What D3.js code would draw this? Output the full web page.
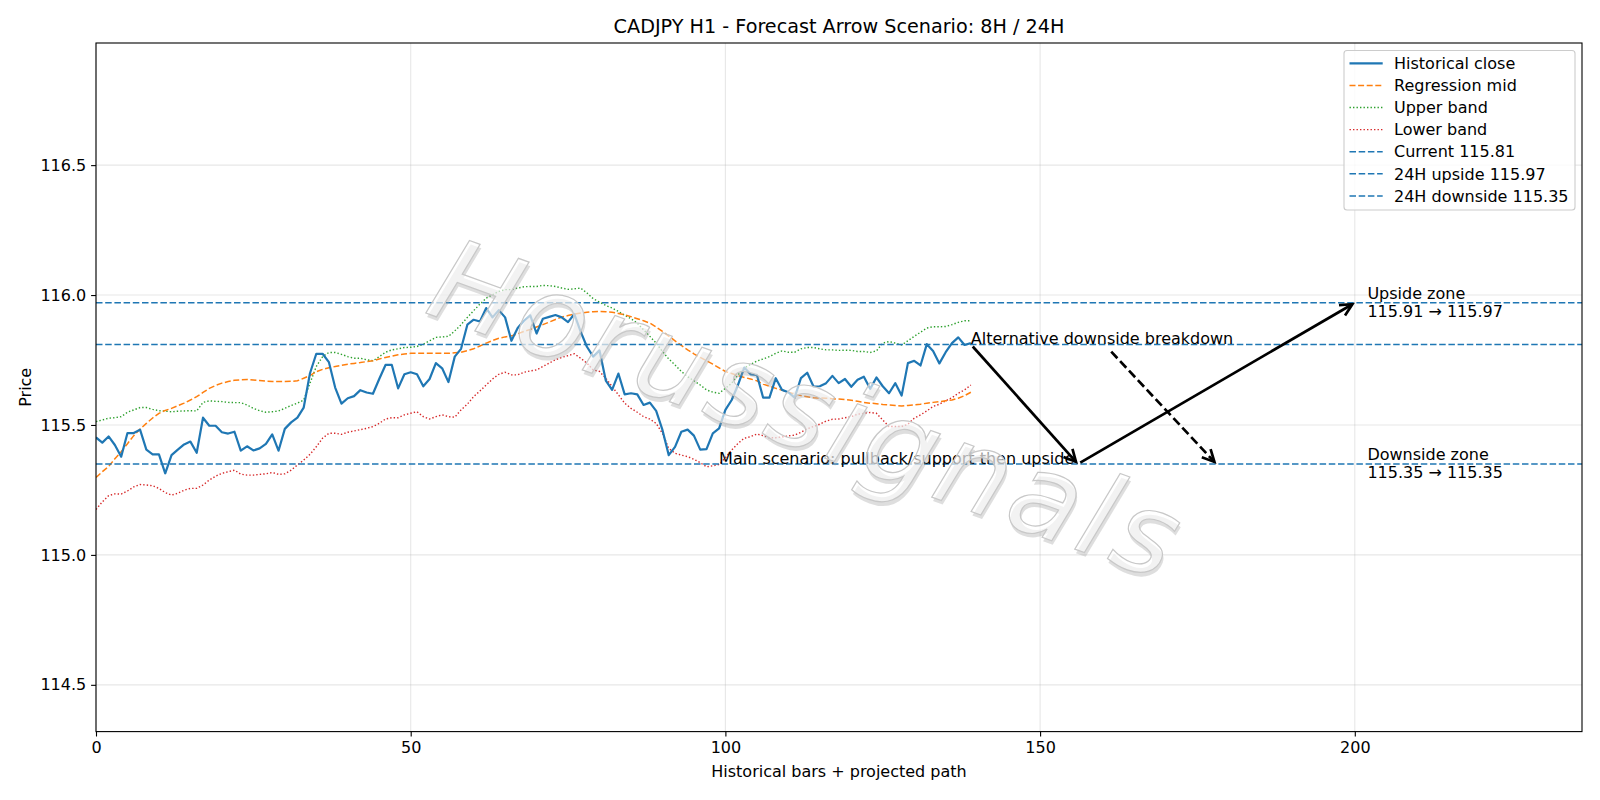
<!DOCTYPE html>
<html>
<head>
<meta charset="utf-8">
<script src="https://cdnjs.cloudflare.com/ajax/libs/d3/7.8.5/d3.min.js"></script>
<style>
  body { margin: 0; background: #ffffff; }
  svg  { font-family: 'DejaVu Sans', sans-serif; }
</style>
</head>
<body>
<svg id="chart" width="1600" height="800"></svg>
<script>
var closeSeries = [
  115.452, 115.432, 115.456, 115.423, 115.378, 115.469, 115.469, 115.482, 115.405, 115.387,
  115.387, 115.314, 115.384, 115.405, 115.425, 115.436, 115.393, 115.528, 115.497, 115.497,
  115.472, 115.467, 115.474, 115.401, 115.418, 115.402, 115.410, 115.427, 115.464, 115.401,
  115.485, 115.510, 115.528, 115.567, 115.699, 115.774, 115.774, 115.742, 115.644, 115.582,
  115.603, 115.611, 115.634, 115.625, 115.620, 115.677, 115.731, 115.731, 115.641, 115.695,
  115.703, 115.695, 115.649, 115.677, 115.738, 115.718, 115.665, 115.763, 115.793, 115.886,
  115.905, 115.898, 115.950, 115.914, 115.942, 115.914, 115.824, 115.873, 115.901, 115.922,
  115.852, 115.909, 115.916, 115.923, 115.914, 115.896, 115.927, 115.859, 115.801, 115.763,
  115.787, 115.671, 115.635, 115.698, 115.618, 115.622, 115.618, 115.577, 115.586, 115.554,
  115.481, 115.384, 115.416, 115.474, 115.482, 115.459, 115.405, 115.407, 115.468, 115.487,
  115.558, 115.596, 115.654, 115.721, 115.695, 115.693, 115.605, 115.605, 115.680, 115.635,
  115.626, 115.605, 115.680, 115.701, 115.648, 115.649, 115.661, 115.689, 115.661, 115.677,
  115.647, 115.674, 115.686, 115.639, 115.683, 115.649, 115.622, 115.661, 115.613, 115.738,
  115.747, 115.729, 115.811, 115.785, 115.737, 115.780, 115.815, 115.837, 115.808, 115.815
]

var midSeries = [
  115.298, 115.320, 115.340, 115.370, 115.397, 115.428, 115.459, 115.484, 115.506, 115.527,
  115.545, 115.556, 115.564, 115.574, 115.584, 115.596, 115.609, 115.625, 115.641, 115.652,
  115.661, 115.667, 115.672, 115.674, 115.675, 115.673, 115.671, 115.669, 115.667, 115.667,
  115.667, 115.668, 115.670, 115.680, 115.690, 115.705, 115.714, 115.720, 115.725, 115.730,
  115.734, 115.737, 115.740, 115.744, 115.747, 115.754, 115.760, 115.765, 115.770, 115.773,
  115.776, 115.776, 115.776, 115.776, 115.776, 115.776, 115.776, 115.778, 115.780, 115.786,
  115.793, 115.804, 115.815, 115.825, 115.834, 115.839, 115.843, 115.851, 115.860, 115.868,
  115.877, 115.886, 115.896, 115.906, 115.915, 115.921, 115.927, 115.931, 115.934, 115.936,
  115.937, 115.936, 115.934, 115.929, 115.924, 115.917, 115.909, 115.901, 115.892, 115.877,
  115.860, 115.842, 115.824, 115.806, 115.789, 115.774, 115.760, 115.747, 115.734, 115.720,
  115.706, 115.698, 115.690, 115.683, 115.677, 115.670, 115.657, 115.649, 115.641, 115.634,
  115.626, 115.619, 115.613, 115.609, 115.605, 115.604, 115.603, 115.601, 115.600, 115.598,
  115.595, 115.591, 115.587, 115.584, 115.582, 115.579, 115.577, 115.575, 115.573, 115.575,
  115.577, 115.580, 115.584, 115.587, 115.590, 115.593, 115.596, 115.603, 115.613, 115.626
]

var upperSeries = [
  115.513, 115.519, 115.526, 115.528, 115.532, 115.549, 115.558, 115.567, 115.567, 115.560,
  115.555, 115.553, 115.551, 115.553, 115.554, 115.555, 115.554, 115.587, 115.593, 115.591,
  115.590, 115.587, 115.586, 115.586, 115.577, 115.564, 115.555, 115.549, 115.551, 115.554,
  115.564, 115.575, 115.584, 115.596, 115.661, 115.725, 115.763, 115.779, 115.779, 115.772,
  115.763, 115.757, 115.757, 115.751, 115.747, 115.763, 115.780, 115.789, 115.793, 115.798,
  115.799, 115.802, 115.811, 115.824, 115.837, 115.839, 115.841, 115.862, 115.886, 115.914,
  115.940, 115.965, 115.988, 116.001, 116.014, 116.021, 116.021, 116.027, 116.032, 116.033,
  116.033, 116.037, 116.036, 116.033, 116.027, 116.022, 116.024, 116.027, 116.008, 115.986,
  115.973, 115.960, 115.950, 115.937, 115.922, 115.909, 115.892, 115.866, 115.841, 115.815,
  115.783, 115.754, 115.731, 115.706, 115.686, 115.670, 115.654, 115.635, 115.626, 115.622,
  115.641, 115.661, 115.693, 115.719, 115.733, 115.746, 115.754, 115.763, 115.776, 115.785,
  115.780, 115.780, 115.793, 115.798, 115.798, 115.793, 115.789, 115.789, 115.787, 115.788,
  115.787, 115.783, 115.783, 115.779, 115.785, 115.815, 115.821, 115.815, 115.808, 115.824,
  115.841, 115.857, 115.873, 115.878, 115.878, 115.879, 115.886, 115.895, 115.901, 115.901
]

var lowerSeries = [
  115.175, 115.204, 115.228, 115.235, 115.234, 115.246, 115.262, 115.271, 115.269, 115.266,
  115.256, 115.240, 115.230, 115.237, 115.249, 115.256, 115.256, 115.269, 115.288, 115.303,
  115.314, 115.320, 115.326, 115.311, 115.307, 115.307, 115.310, 115.312, 115.317, 115.310,
  115.312, 115.326, 115.346, 115.365, 115.387, 115.416, 115.449, 115.468, 115.468, 115.464,
  115.472, 115.477, 115.482, 115.487, 115.494, 115.506, 115.523, 115.528, 115.528, 115.539,
  115.545, 115.551, 115.532, 115.523, 115.532, 115.539, 115.532, 115.530, 115.558, 115.580,
  115.609, 115.631, 115.654, 115.677, 115.695, 115.703, 115.693, 115.693, 115.703, 115.708,
  115.712, 115.725, 115.738, 115.751, 115.760, 115.767, 115.774, 115.757, 115.738, 115.712,
  115.706, 115.680, 115.648, 115.616, 115.584, 115.564, 115.549, 115.532, 115.523, 115.506,
  115.468, 115.410, 115.391, 115.384, 115.378, 115.368, 115.355, 115.339, 115.343, 115.348,
  115.374, 115.404, 115.429, 115.449, 115.455, 115.465, 115.459, 115.451, 115.451, 115.454,
  115.458, 115.461, 115.472, 115.485, 115.494, 115.503, 115.515, 115.522, 115.523, 115.528,
  115.532, 115.541, 115.545, 115.548, 115.545, 115.519, 115.494, 115.494, 115.494, 115.503,
  115.526, 115.539, 115.554, 115.571, 115.580, 115.593, 115.605, 115.622, 115.635, 115.654
]

var currentPrice   = 115.81
var upsideTarget   = 115.97
var upsideFrom     = 115.91
var downsideTarget = 115.35
var downsideFrom   = 115.35

var xTicks = [0, 50, 100, 150, 200]
var yTicks = [114.5, 115.0, 115.5, 116.0, 116.5]
var xDomain = [0, 236.1]
var yDomain = [114.32, 116.97]

var mainPath = [
  { x: 139, y: 115.81 },
  { x: 156, y: 115.35 },
  { x: 200, y: 115.97 }
]
var altPath = [
  { x: 161, y: 115.79 },
  { x: 178, y: 115.35 }
]

var legendLabels = [
  'Historical close',
  'Regression mid',
  'Upper band',
  'Lower band',
  'Current ' + currentPrice.toFixed(2),
  '24H upside ' + upsideTarget.toFixed(2),
  '24H downside ' + downsideTarget.toFixed(2)
]

drawForecastChart()

function drawForecastChart() {

  var svg    = d3.select('#chart')
  var left   = 96
  var right  = 1582
  var top    = 43
  var bottom = 731.6
  var fs     = 16
  var blue   = '#1f77b4'

  var x = d3.scaleLinear().domain(xDomain).range([left, right])
  var y = d3.scaleLinear().domain(yDomain).range([bottom, top])

  var defs = svg.append('defs')
  defs.append('clipPath')
      .attr('id', 'plotClip')
      .append('rect')
      .attr('x', left)
      .attr('y', top)
      .attr('width', right - left)
      .attr('height', bottom - top)

  defs.append('marker')
      .attr('id', 'openHead')
      .attr('viewBox', '-18 -12 24 24')
      .attr('markerUnits', 'userSpaceOnUse')
      .attr('markerWidth', 24)
      .attr('markerHeight', 24)
      .attr('refX', 0)
      .attr('refY', 0)
      .attr('orient', 'auto')
      .append('path')
      .attr('d', 'M-12,-6L0,0L-12,6')
      .attr('fill', 'none')
      .attr('stroke', '#000')
      .attr('stroke-width', 2.7)
      .attr('stroke-linejoin', 'miter')

  // grid
  var grid = svg.append('g')
  grid.selectAll('.vgrid')
      .data(xTicks)
      .enter()
      .append('line')
      .attr('x1', function(d) { return x(d) })
      .attr('x2', function(d) { return x(d) })
      .attr('y1', top)
      .attr('y2', bottom)
  grid.selectAll('.hgrid')
      .data(yTicks)
      .enter()
      .append('line')
      .attr('x1', left)
      .attr('x2', right)
      .attr('y1', function(d) { return y(d) })
      .attr('y2', function(d) { return y(d) })
  grid.selectAll('line')
      .attr('stroke', '#b0b0b0')
      .attr('stroke-opacity', 0.3)
      .attr('stroke-width', 1.1)

  var plot = svg.append('g').attr('clip-path', 'url(#plotClip)')

  var line = d3.line()
               .x(function(d, i) { return x(i) })
               .y(function(d) { return y(d) })

  plot.append('path')
      .datum(upperSeries)
      .attr('d', line)
      .attr('fill', 'none')
      .attr('stroke', '#2ca02c')
      .attr('stroke-width', 1.4)
      .attr('stroke-dasharray', '1.4,2.1')

  plot.append('path')
      .datum(lowerSeries)
      .attr('d', line)
      .attr('fill', 'none')
      .attr('stroke', '#d62728')
      .attr('stroke-width', 1.4)
      .attr('stroke-dasharray', '1.4,2.1')

  plot.append('path')
      .datum(midSeries)
      .attr('d', line)
      .attr('fill', 'none')
      .attr('stroke', '#ff7f0e')
      .attr('stroke-width', 1.5)
      .attr('stroke-dasharray', '6,2.6')

  plot.append('path')
      .datum(closeSeries)
      .attr('d', line)
      .attr('fill', 'none')
      .attr('stroke', blue)
      .attr('stroke-width', 2.2)
      .attr('stroke-linejoin', 'round')

  plot.selectAll('.level')
      .data([currentPrice, upsideTarget, downsideTarget])
      .enter()
      .append('line')
      .attr('x1', left)
      .attr('x2', right)
      .attr('y1', function(d) { return y(d) })
      .attr('y2', function(d) { return y(d) })
      .attr('stroke', blue)
      .attr('stroke-width', 1.5)
      .attr('stroke-dasharray', '6.5,2.7')

  // arrows
  var segs = []
  for (var i = 0; i < mainPath.length - 1; i++) {
    segs.push({ a: mainPath[i], b: mainPath[i + 1], dash: null })
  }
  segs.push({ a: altPath[0], b: altPath[1], dash: '9,4' })

  plot.selectAll('.arrow')
      .data(segs)
      .enter()
      .append('line')
      .each(function(d) {
        var x0 = x(d.a.x), y0 = y(d.a.y), x1 = x(d.b.x), y1 = y(d.b.y)
        var len = Math.sqrt((x1 - x0) * (x1 - x0) + (y1 - y0) * (y1 - y0))
        var ux = (x1 - x0) / len, uy = (y1 - y0) / len
        d3.select(this)
          .attr('x1', x0 + ux * 2.8)
          .attr('y1', y0 + uy * 2.8)
          .attr('x2', x1 - ux * 2.8)
          .attr('y2', y1 - uy * 2.8)
      })
      .attr('stroke', '#000')
      .attr('stroke-width', 2.7)
      .attr('stroke-dasharray', function(d) { return d.dash })
      .attr('marker-end', 'url(#openHead)')

  // annotations
  var notes = svg.append('g')
                 .attr('font-size', fs)
                 .attr('fill', '#000')

  notes.append('text')
       .attr('x', x(mainPath[0].x))
       .attr('y', y(currentPrice))
       .text('Alternative downside breakdown')

  notes.append('text')
       .attr('x', x(99))
       .attr('y', y(downsideTarget))
       .text('Main scenario: pullback/support then upside')

  var zones = [
    { label: 'Upside zone', from: upsideFrom, to: upsideTarget },
    { label: 'Downside zone', from: downsideFrom, to: downsideTarget }
  ]
  zones.forEach(function(z) {
    var t = notes.append('text')
                 .attr('x', x(202))
                 .attr('y', y(z.to) - 3.5)
    t.append('tspan')
     .attr('x', x(202))
     .text(z.label)
    t.append('tspan')
     .attr('x', x(202))
     .attr('dy', 17.4)
     .text(z.from.toFixed(2) + ' \u2192 ' + z.to.toFixed(2))
  })

  // watermark
  var wm = svg.append('g')
              .attr('transform', 'translate(808,410) rotate(20)')
              .attr('font-size', 114)
              .attr('font-style', 'italic')
              .attr('letter-spacing', 5)
              .attr('text-anchor', 'middle')
              .attr('dominant-baseline', 'central')
  wm.append('text')
    .attr('x', 2.5)
    .attr('y', 3.5)
    .attr('fill', '#a0a0a0')
    .attr('fill-opacity', 0.35)
    .text('Horussignals')
  wm.append('text')
    .attr('fill', '#ffffff')
    .attr('fill-opacity', 0.6)
    .attr('stroke', '#c8c8c8')
    .attr('stroke-width', 1.2)
    .text('Horussignals')

  // axes
  var xAxis = svg.append('g')
                 .attr('transform', 'translate(0,' + bottom + ')')
                 .call(d3.axisBottom(x).tickValues(xTicks).tickSize(4.9).tickPadding(4.9).tickFormat(d3.format('d')))
  var yAxis = svg.append('g')
                 .attr('transform', 'translate(' + left + ',0)')
                 .call(d3.axisLeft(y).tickValues(yTicks).tickSize(4.9).tickPadding(4.9).tickFormat(d3.format('.1f')))

  ;[xAxis, yAxis].forEach(function(ax) {
    ax.select('.domain').remove()
    ax.selectAll('line').attr('stroke', '#000').attr('stroke-width', 1.1)
    ax.selectAll('text')
      .attr('font-family', 'DejaVu Sans, sans-serif')
      .attr('font-size', fs)
      .attr('fill', '#000')
  })

  svg.append('rect')
     .attr('x', left)
     .attr('y', top)
     .attr('width', right - left)
     .attr('height', bottom - top)
     .attr('fill', 'none')
     .attr('stroke', '#000')
     .attr('stroke-width', 1.1)

  svg.append('text')
     .attr('x', (left + right) / 2)
     .attr('y', 33)
     .attr('text-anchor', 'middle')
     .attr('font-size', 19.2)
     .text('CADJPY H1 - Forecast Arrow Scenario: 8H / 24H')

  svg.append('text')
     .attr('x', (left + right) / 2)
     .attr('y', 777)
     .attr('text-anchor', 'middle')
     .attr('font-size', fs)
     .text('Historical bars + projected path')

  svg.append('text')
     .attr('transform', 'translate(31,' + ((top + bottom) / 2) + ') rotate(-90)')
     .attr('text-anchor', 'middle')
     .attr('font-size', fs)
     .text('Price')

  // legend
  var styles = [
    { color: blue,      width: 2.2, dash: null },
    { color: '#ff7f0e', width: 1.5, dash: '6,2.6' },
    { color: '#2ca02c', width: 1.4, dash: '1.4,2.1' },
    { color: '#d62728', width: 1.4, dash: '1.4,2.1' },
    { color: blue,      width: 1.5, dash: '6.5,2.7' },
    { color: blue,      width: 1.5, dash: '6.5,2.7' },
    { color: blue,      width: 1.5, dash: '6.5,2.7' }
  ]

  var legend = svg.append('g')
  legend.append('rect')
        .attr('x', 1344)
        .attr('y', 50.5)
        .attr('width', 231)
        .attr('height', 159.5)
        .attr('rx', 3)
        .attr('fill', '#ffffff')
        .attr('fill-opacity', 0.8)
        .attr('stroke', '#cccccc')
        .attr('stroke-width', 1.1)

  var rows = legend.selectAll('.row')
                   .data(legendLabels)
                   .enter()
                   .append('g')
                   .attr('transform', function(d, i) { return 'translate(0,' + (63.3 + i * 22.1) + ')' })

  rows.append('line')
      .attr('x1', 1349.5)
      .attr('x2', 1382.7)
      .attr('stroke', function(d, i) { return styles[i].color })
      .attr('stroke-width', function(d, i) { return styles[i].width })
      .attr('stroke-dasharray', function(d, i) { return styles[i].dash })

  rows.append('text')
      .attr('x', 1394)
      .attr('dy', '0.36em')
      .attr('font-size', fs)
      .text(function(d) { return d })
}
</script>
</body>
</html>
